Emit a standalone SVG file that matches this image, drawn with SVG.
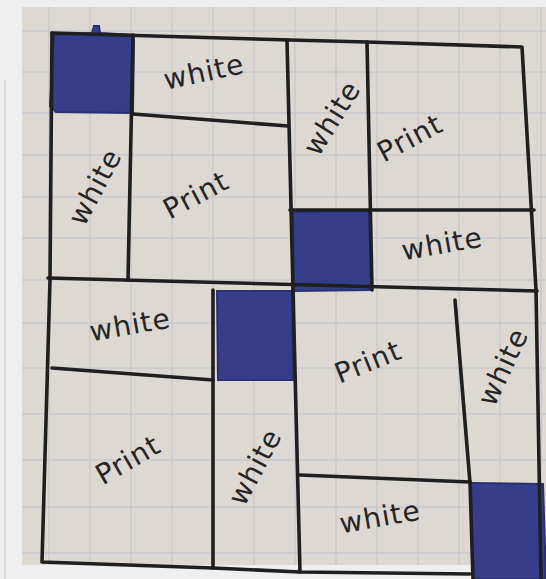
<svg xmlns="http://www.w3.org/2000/svg" width="546" height="579" viewBox="0 0 546 579">
<defs>
<style>
.grid{stroke:#c9c7cd;stroke-width:1.4;fill:none}
.ink{stroke:#1f1f1f;stroke-width:3.6;fill:none;stroke-linecap:round;stroke-linejoin:round}
.blue{fill:#363e8c;stroke:#2a3070;stroke-width:2}
.lbl{font-family:"DejaVu Sans",sans-serif;font-size:28px;letter-spacing:1px;fill:#252525;text-anchor:middle;dominant-baseline:central}
</style>
</defs>
<rect x="0" y="0" width="546" height="579" fill="#efefef"/>
<rect x="22" y="7" width="524" height="558" fill="#ddd8d2"/>
<line x1="5" y1="80" x2="5" y2="579" stroke="#d8d8d8" stroke-width="1.5"/>
<g id="grid">
<path class="grid" d="M49 7V565M90 7V565M131 7V565M172 7V565M213 7V565M254 7V565M295 7V565M336 7V565M377 7V565M418 7V565M459 7V565M500 7V565M541 7V565"/>
<path class="grid" d="M22 31H546M22 72H546M22 113H546M22 155H546M22 197H546M22 238H546M22 280H546M22 323H546M22 368H546M22 414H546M22 460H546M22 507H546M22 553H546"/>
</g>
<g id="blue-squares">
<path class="blue" d="M54 35 L92 33 L94 26 L99 26 L100 33 L134 35 L133 113 L56 112 L50 106 Z"/>
<path class="blue" d="M293 212 L369 211 L371 290 L294 291 Z"/>
<path class="blue" d="M217 291 L292 291 L293 380 L218 380 Z"/>
<path class="blue" d="M471 483 L543 484 L546 579 L473 579 Z"/>
</g>
<g id="lines">
<path class="ink" d="M52 33 L290 40 L367 42 L522 47 L536 290 L541 579"/>
<path class="ink" d="M52 33 L50 280 L42 562 L213 568 L300 572 L470 574"/>
<path class="ink" d="M133 35 L128 280"/>
<path class="ink" d="M133 114 L288 126"/>
<path class="ink" d="M287 40 L293 290"/>
<path class="ink" d="M367 42 L372 290"/>
<path class="ink" d="M290 210 L534 210"/>
<path class="ink" d="M48 278 L273 284 L537 291"/>
<path class="ink" d="M213 290 L213 568"/>
<path class="ink" d="M52 368 L213 380"/>
<path class="ink" d="M293 290 L300 572"/>
<path class="ink" d="M455 300 L470 483"/>
<path class="ink" d="M300 475 L470 482"/>
<path class="ink" d="M470 482 L473 579"/>
</g>
<g id="labels">
<text class="lbl" transform="translate(204,72) rotate(-12)">white</text>
<text class="lbl" transform="translate(95,187) rotate(-62)">white</text>
<text class="lbl" transform="translate(196,195) rotate(-28)">Print</text>
<text class="lbl" transform="translate(332,118) rotate(-58)">white</text>
<text class="lbl" transform="translate(410,138) rotate(-28)">Print</text>
<text class="lbl" transform="translate(442,244) rotate(-10)">white</text>
<text class="lbl" transform="translate(130,325) rotate(-10)">white</text>
<text class="lbl" transform="translate(128,460) rotate(-30)">Print</text>
<text class="lbl" transform="translate(255,467) rotate(-62)">white</text>
<text class="lbl" transform="translate(368,362) rotate(-22)">Print</text>
<text class="lbl" transform="translate(503,367) rotate(-65)">white</text>
<text class="lbl" transform="translate(380,517) rotate(-10)">white</text>
</g>
</svg>
